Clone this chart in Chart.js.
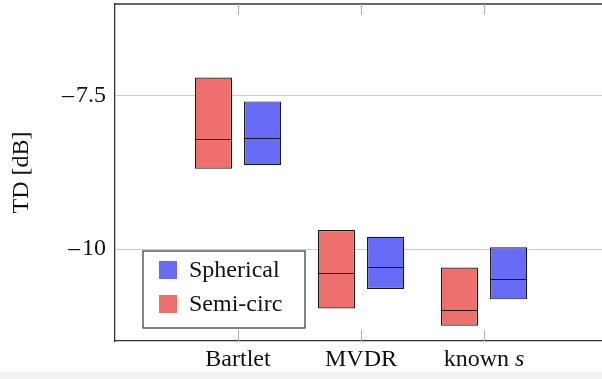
<!DOCTYPE html>
<html>
<head>
<meta charset="utf-8">
<script src="https://cdn.jsdelivr.net/npm/chart.js@4"></script>
<style>
  body { margin: 0; overflow: hidden; background: #fff; }
  #wrap { position: relative; width: 620px; height: 379px; }
  #strip { position: absolute; left: 0; top: 372px; width: 620px; height: 7px; background: #f2f2f2; }
  canvas { position: absolute; left: 0; top: 0; }
</style>
</head>
<body>
<div id="wrap">
  <div id="strip"></div>
  <canvas id="myChart" width="620" height="379"></canvas>
</div>
<script>
// categories (empty slots pad the axis on both sides)
const categories = ['', 'Bartlet', 'MVDR', 'known s', '']
const yTicks = [-10, -7.5]

// Semi-circ: box [low, high] and median
const semiBox = [null, [-8.69, -7.20], [-10.97, -9.69], [-11.25, -10.30], null]
const semiMed = [null, -8.20, -10.39, -10.99, null]

// Spherical
const sphBox = [null, [-8.63, -7.59], [-10.65, -9.80], [-10.82, -9.97], null]
const sphMed = [null, -8.18, -10.29, -10.48, null]

const serif = '"Liberation Serif", "Times New Roman", serif'
const fs = 24
const red = 'rgb(238, 111, 107)'
const blue = 'rgb(102, 108, 245)'

// medians, frame, tick marks, x labels and legend
const extras = {
  id: 'extras',
  afterDatasetsDraw(chart) {
    const c = chart.ctx
    const y = chart.scales.y
    const meds = [semiMed, sphMed]
    c.save()
    c.strokeStyle = '#1a1a1a'
    c.lineWidth = 1.2
    meds.forEach(function(med, d) {
      chart.getDatasetMeta(d).data.forEach(function(bar, i) {
        if (med[i] == null) return
        const py = Math.round(y.getPixelForValue(med[i])) + 0.5
        c.beginPath()
        c.moveTo(bar.x - bar.width / 2, py)
        c.lineTo(bar.x + bar.width / 2, py)
        c.stroke()
      })
    })
    c.restore()
  },
  afterDraw(chart) {
    const c = chart.ctx
    const a = chart.chartArea
    const x = chart.scales.x
    c.save()
    // top frame line
    c.strokeStyle = '#333'
    c.lineWidth = 1.3
    c.beginPath()
    c.moveTo(a.left, a.top)
    c.lineTo(a.right, a.top)
    c.stroke()
    // short inner ticks
    c.strokeStyle = '#b0b0b0'
    c.lineWidth = 1
    for (let i = 1; i < categories.length - 1; i++) {
      const px = Math.round(x.getPixelForValue(i)) + 0.5
      c.beginPath()
      c.moveTo(px, a.top); c.lineTo(px, a.top + 11)
      c.moveTo(px, a.bottom); c.lineTo(px, a.bottom - 11)
      c.stroke()
    }
    // x labels
    c.fillStyle = '#111'
    c.textBaseline = 'middle'
    c.textAlign = 'left'
    for (let i = 1; i < categories.length - 1; i++) {
      const px = x.getPixelForValue(i)
      const label = categories[i]
      if (label == 'known s') {
        c.font = fs + 'px ' + serif
        const w1 = c.measureText('known ').width
        c.font = 'italic ' + fs + 'px ' + serif
        const w2 = c.measureText('s').width
        const sx = px - (w1 + w2) / 2
        c.font = fs + 'px ' + serif
        c.fillText('known ', sx, 360)
        c.font = 'italic ' + fs + 'px ' + serif
        c.fillText('s', sx + w1, 360)
      } else {
        c.font = fs + 'px ' + serif
        c.fillText(label, px - c.measureText(label).width / 2, 360)
      }
    }
    // legend
    c.fillStyle = '#fff'
    c.fillRect(143, 251, 162, 77)
    c.strokeStyle = '#333'
    c.lineWidth = 1.2
    c.strokeRect(143, 251, 162, 77)
    const items = [[chart.data.datasets[1].label, blue, 270], [chart.data.datasets[0].label, red, 304]]
    c.font = fs + 'px ' + serif
    items.forEach(function(it) {
      c.fillStyle = it[1]
      c.fillRect(159, it[2] - 9, 18, 18)
      c.fillStyle = '#111'
      c.fillText(it[0], 189, it[2] + 1)
    })
    c.restore()
  }
}

const ctx = document.getElementById('myChart')

new Chart(ctx, {
  type: 'bar',
  data: {
    labels: categories,
    datasets: [{
      label: 'Semi-circ',
      data: semiBox,
      backgroundColor: red,
      borderColor: '#1a1a1a',
      borderWidth: 1.2,
      borderSkipped: false
    }, {
      label: 'Spherical',
      data: sphBox,
      backgroundColor: blue,
      borderColor: '#1a1a1a',
      borderWidth: 1.2,
      borderSkipped: false
    }]
  },
  options: {
    responsive: false,
    animation: false,
    categoryPercentage: 0.8,
    barPercentage: 0.755,
    layout: { padding: { top: 4, right: 13, left: 0, bottom: 0 } },
    plugins: {
      legend: { display: false },
      tooltip: { enabled: false }
    },
    scales: {
      x: {
        offset: false,
        grid: { display: false },
        border: { display: true, color: '#333', width: 1.3 },
        ticks: { display: false },
        afterFit: function(scale) {
          scale.height = 38
          scale.paddingLeft = 0
          scale.paddingRight = 0
        }
      },
      y: {
        min: -11.5,
        max: -6,
        afterBuildTicks: function(scale) {
          scale.ticks = yTicks.map(function(v) { return { value: v } })
        },
        grid: { color: '#cccccc', drawTicks: false },
        border: { display: true, color: '#333', width: 1.3 },
        ticks: {
          padding: 9,
          color: '#111',
          font: { family: serif, size: fs },
          callback: function(v) { return '\u2013\u200a' + Math.abs(v) }
        },
        title: {
          display: true,
          text: 'TD [dB]',
          color: '#111',
          font: { family: serif, size: fs },
          padding: { top: 7, bottom: 0 }
        },
        afterFit: function(scale) {
          scale.width = 115
          scale.paddingTop = 0
          scale.paddingBottom = 0
        }
      }
    }
  },
  plugins: [extras]
})
</script>
</body>
</html>
